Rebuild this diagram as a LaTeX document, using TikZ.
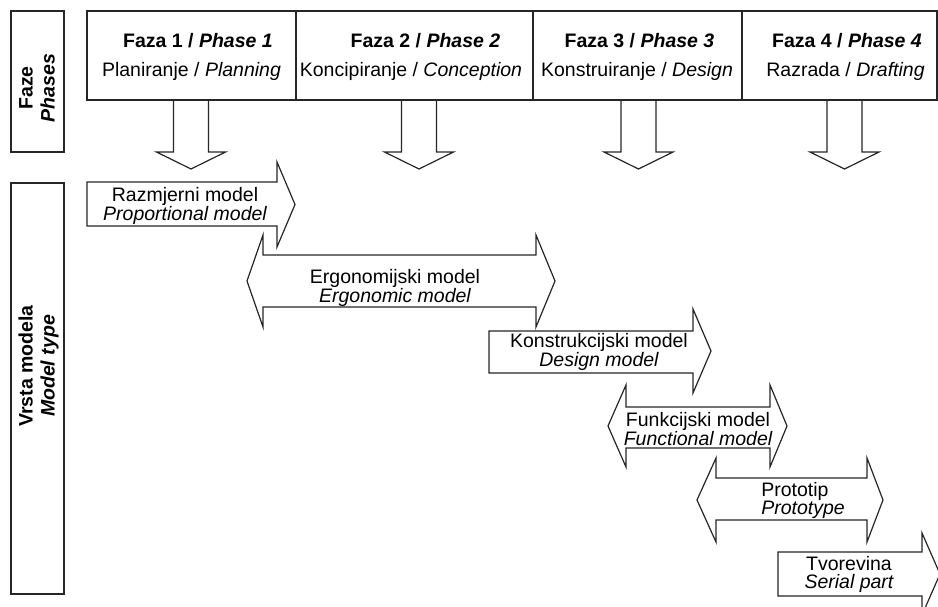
\documentclass[tikz,border=0pt]{standalone}
\usepackage{fontspec}
\setmainfont{Liberation Sans}
\begin{document}
\begin{tikzpicture}[x=1pt,y=-1pt,
  frame/.style={draw=black!85,line width=1.3pt},
  shp/.style={draw=black!85,line width=1.2pt,fill=white,line join=miter},
  lbl/.style={font=\fontsize{19.5}{18}\selectfont,inner sep=0pt,align=center,text=black},
  vlbl/.style={font=\bfseries\fontsize{19.5}{22}\selectfont,inner sep=0pt,align=center,rotate=90,text=black}]
\useasboundingbox (0,0) rectangle (938,606);
\clip (0,0) rectangle (938,606);
% left side boxes
\draw[frame] (11,11) rectangle (64,152);
\node[vlbl] (faze) at (37,88) {Faze\\\itshape Phases};
\draw[frame] (11,183) rectangle (64,594);
\node[vlbl] (vrsta) at (38.5,366) {Vrsta modela\\\itshape Model type};
% phase header
\draw[frame] (87,11) rectangle (937,100);
\draw[frame] (296,11) -- (296,100);
\draw[frame] (533,11) -- (533,100);
\draw[frame] (742,11) -- (742,100);
\node[lbl,anchor=base] (f1) at (198,47.5) {\bfseries Faza 1 / \itshape Phase 1};
\node[lbl,anchor=base] (p1) at (191.5,76) {Planiranje / \itshape Planning};
\node[lbl,anchor=base] (f2) at (425.5,47.5) {\bfseries Faza 2 / \itshape Phase 2};
\node[lbl,anchor=base] (p2) at (411,76) {Koncipiranje / \itshape Conception};
\node[lbl,anchor=base] (f3) at (639.5,47.5) {\bfseries Faza 3 / \itshape Phase 3};
\node[lbl,anchor=base] (p3) at (637,76) {Konstruiranje / \itshape Design};
\node[lbl,anchor=base] (f4) at (847,47.5) {\bfseries Faza 4 / \itshape Phase 4};
\node[lbl,anchor=base] (p4) at (845.5,76) {Razrada / \itshape Drafting};
% down arrows
\foreach \cx in {191,419,638.5,844.5}{
  \draw[shp] ({\cx-17.5},101) -- ({\cx-17.5},152) -- ({\cx-34.5},152) -- (\cx,169)
    -- ({\cx+34.5},152) -- ({\cx+17.5},152) -- ({\cx+17.5},101);
}
% model arrows
\draw[shp] (87,182) -- (277,182) -- (277,162) -- (295,204.5) -- (277,247) -- (277,226) -- (87,226) -- cycle;
\draw[shp] (263,255) -- (536,255) -- (536,235) -- (555,281) -- (536,327) -- (536,307) -- (263,307) -- (263,327) -- (247,281) -- (263,235) -- cycle;
\draw[shp] (489,331) -- (693,331) -- (693,309) -- (711,351) -- (693,393) -- (693,373) -- (489,373) -- cycle;
\draw[shp] (626,407) -- (770,407) -- (770,385) -- (787,426) -- (770,467) -- (770,448) -- (626,448) -- (626,467) -- (608,426) -- (626,385) -- cycle;
\draw[shp] (716,478) -- (867,478) -- (867,458) -- (883,500) -- (867,542) -- (867,520) -- (716,520) -- (716,542) -- (697,500) -- (716,458) -- cycle;
\draw[shp] (778,552) -- (922,552) -- (922,533) -- (940,574) -- (922,615) -- (922,596) -- (778,596) -- cycle;
% model labels
\node[lbl] (razm) at (185,206) {Razmjerni model\\\itshape Proportional model};
\node[lbl] (ergo) at (395,288) {Ergonomijski model\\\itshape Ergonomic model};
\node[lbl] (konst) at (599,352) {Konstrukcijski model\\\itshape Design model};
\node[lbl] (funk) at (698,429) {Funkcijski model\\\itshape Functional model};
\node[lbl,align=left] (proto) at (803,500) {Prototip\\\itshape Prototype};
\node[lbl] (tvor) at (849,574) {Tvorevina\\\itshape Serial part};
\end{tikzpicture}
\end{document}
